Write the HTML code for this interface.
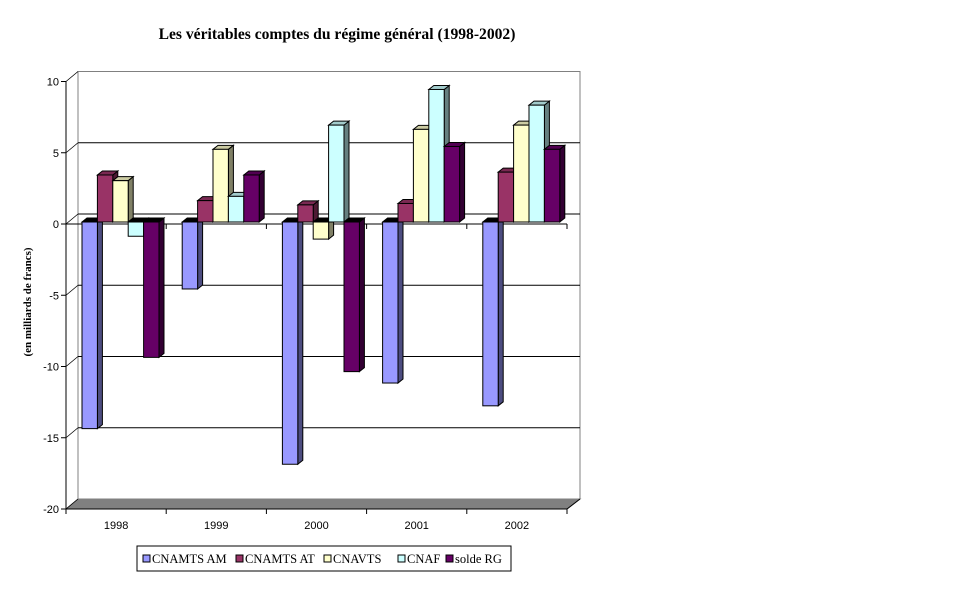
<!DOCTYPE html>
<html><head><meta charset="utf-8"><style>
body{margin:0;background:#fff;}
svg{display:block;}
text{font-family:"Liberation Sans",Arial,sans-serif;}
.ser{font-family:"Liberation Serif","Times New Roman",serif;}
</style></head><body>
<svg id="chart" width="969" height="603" viewBox="0 0 969 603" xmlns="http://www.w3.org/2000/svg">
<text class="ser" x="337" y="39" text-anchor="middle" font-size="15.6" font-weight="bold">Les véritables comptes du régime général (1998-2002)</text>
<text class="ser" transform="translate(31,302) rotate(-90)" text-anchor="middle" font-size="11" font-weight="bold">(en milliards de francs)</text>
<g id="plot"></g>
<g>
<rect x="137" y="546" width="374" height="25" fill="#fff" stroke="#000" stroke-width="1"/>
<g id="legend"></g>
</g>
</svg>
<script>
const categories=["1998","1999","2000","2001","2002"];
const seriesNames=["CNAMTS AM","CNAMTS AT","CNAVTS","CNAF","solde RG"];
const amValues=[-14.5,-4.7,-17.0,-11.3,-12.9];
const atValues=[3.3,1.5,1.2,1.3,3.5];
const avtsValues=[2.9,5.1,-1.2,6.5,6.8];
const cnafValues=[-1.0,1.8,6.8,9.3,8.2];
const rgValues=[-9.5,3.3,-10.5,5.3,5.1];
const yTicks=[10,5,0,-5,-10,-15,-20];

const NS="http://www.w3.org/2000/svg";
const plot=document.getElementById('plot');
const X0=66,X1=567,DX=12,DY=-10;
const yMin=-20,yMax=10;
function yF(v){return 224+(0-v)*(509-224)/20;}
function el(tag,attrs,parent){const e=document.createElementNS(NS,tag);for(const k in attrs)e.setAttribute(k,attrs[k]);(parent||plot).appendChild(e);return e;}
let w=el('rect',{x:X0+DX,y:yF(yMax)+DY,width:X1-X0+1,height:yF(yMin)-yF(yMax),fill:'#fff',stroke:'#808080','stroke-width':1});


let fl=el('polygon',{points:`${X0},${yF(yMin)} ${X0+DX},${yF(yMin)+DY} ${X1+DX+1},${yF(yMin)+DY} ${X1},${yF(yMin)}`,fill:'#808080',stroke:'#808080'});


yTicks.forEach(t=>{
  const y=yF(t);
  if(t>yMin&&t<yMax){
    let g=el('line',{x1:X0+DX,y1:y+DY,x2:X1+DX+1,y2:y+DY,stroke:'#000','stroke-width':1});
    
    
  }
  let c=el('line',{x1:X0,y1:y,x2:X0+DX,y2:y+DY,stroke:'#000','stroke-width':0.8});
  
  
  el('line',{x1:X0-5,y1:y,x2:X0,y2:y,stroke:'#000'});
  let tx=el('text',{x:X0-7,y:y+4,'text-anchor':'end','font-size':11});
  tx.textContent=String(t);
  
  
});
let ya=el('line',{x1:X0,y1:yF(yMax),x2:X0,y2:yF(yMin),stroke:'#000'});


const catW=(X1-X0)/categories.length;
[yF(0),yF(yMin)].forEach(y=>{
  el('line',{x1:X0,y1:y,x2:X1,y2:y,stroke:'#000'});
  for(let i=0;i<=categories.length;i++){const x=X0+i*catW;el('line',{x1:x,y1:y,x2:x,y2:y+5,stroke:'#000'});}
});
el('line',{x1:X1,y1:yF(yMin),x2:X1+DX+1,y2:yF(yMin)+DY,stroke:'#000'});
categories.forEach((c,i)=>{
  let t=el('text',{x:X0+(i+0.5)*catW,y:yF(yMin)+20,'text-anchor':'middle','font-size':11});
  t.textContent=c;
  
  
});
const series=[amValues,atValues,avtsValues,cnafValues,rgValues];
const colors=[['#9999ff','#4d4d80','#7a7acc'],['#993366','#4d1a33','#7a2952'],['#ffffcc','#808066','#cccca3'],['#ccffff','#668080','#a3cccc'],['#660066','#330033','#520052']];
const bw=15.4,bdx=5,bdy=-4,ox=2,oy=-2;
function y0b(v){return yF(v)+oy;}
categories.forEach((c,i)=>{
  series.forEach((s,j)=>{
    const v=s[i];
    const xl=X0+i*catW+14+j*bw+ox, xr=xl+bw;
    const yz=y0b(0), yv=y0b(v);
    const top=Math.min(yz,yv), bot=Math.max(yz,yv);
    const g=el('g',{});
    
    
    const col=colors[j];
    el('polygon',{points:`${xr},${top} ${xr+bdx},${top+bdy} ${xr+bdx},${bot+bdy} ${xr},${bot}`,fill:col[1],stroke:'#000','stroke-width':1},g);
    el('polygon',{points:`${xl},${top} ${xl+bdx},${top+bdy} ${xr+bdx},${top+bdy} ${xr},${top}`,fill:v<0?'#000':col[2],stroke:'#000','stroke-width':1},g);
    el('rect',{x:xl,y:top,width:bw,height:bot-top,fill:col[0],stroke:'#000','stroke-width':1},g);
  });
});
const lg=document.getElementById('legend');
const lx=[143,236,324,398,446];
seriesNames.forEach((n,j)=>{
  const g=el('g',{},lg);
  
  
  el('rect',{x:lx[j],y:555,width:7,height:7,fill:colors[j][0],stroke:'#000','stroke-width':1},g);
  const t=el('text',{x:lx[j]+9,y:563,'font-size':12.5,class:'ser'},g);
  t.textContent=n;
});
</script>
</body></html>
